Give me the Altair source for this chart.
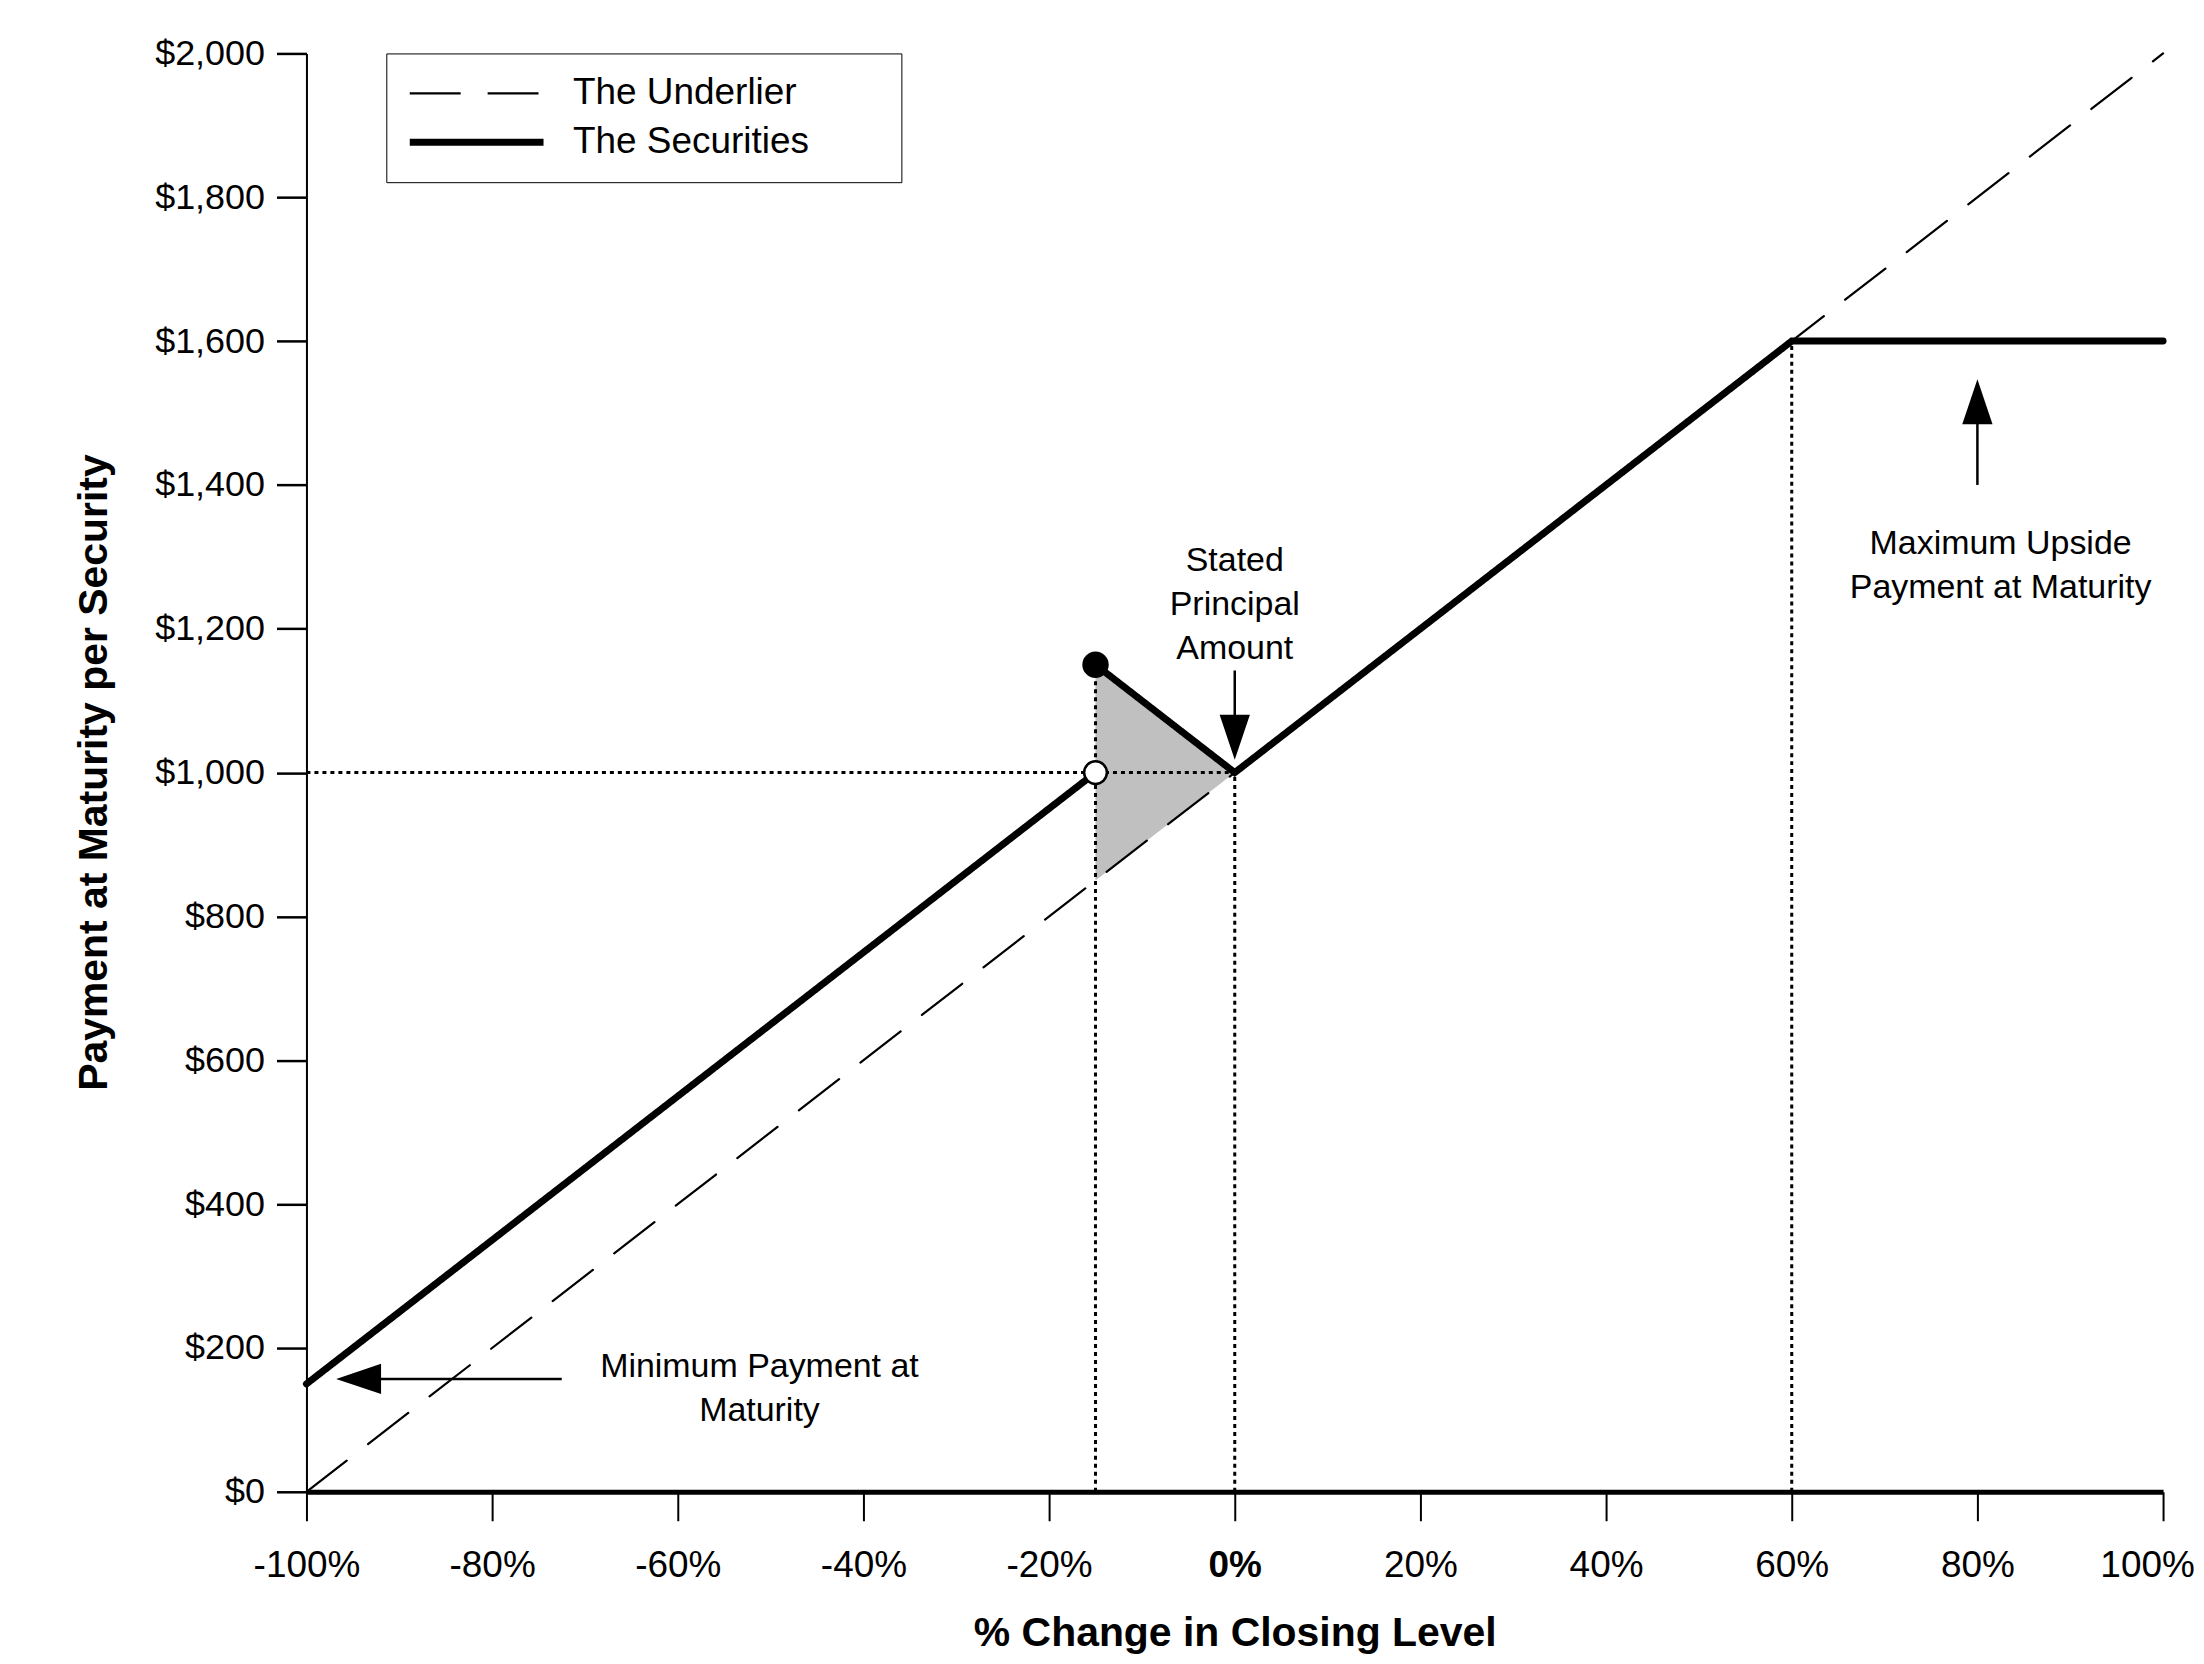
import altair as alt
import pandas as pd

FONT = "Liberation Sans"
X_TITLE = "% Change in Closing Level"
Y_TITLE = "Payment at Maturity per Security"

# ---- series values ----
series_names = ["The Underlier", "The Securities"]
underlier_x = [-100, 100]
underlier_y = [0, 2000]
sec_low_x = [-100, -15]
sec_low_y = [150, 1000]
sec_high_x = [-15, 0, 60, 100]
sec_high_y = [1150, 1000, 1600, 1600]

# shaded region between underlier and securities
shade_x = [-15, 0]
shade_lo = [850, 1000]
shade_hi = [1150, 1000]

# dotted reference lines
ref_x = [-100, -15, 0, 60]
ref_x2 = [0, -15, 0, 60]
ref_y = [1000, 0, 0, 0]
ref_y2 = [1000, 1150, 1000, 1600]

# markers
open_x = [-15]
open_y = [1000]
solid_x = [-15]
solid_y = [1150]

# annotation texts
note_text = ["Stated\nPrincipal\nAmount",
             "Maximum Upside\nPayment at Maturity",
             "Minimum Payment at\nMaturity"]
note_x = [0, 82.5, -51.2]
note_y = [1280, 1304, 159]

# arrow shafts
arrow_x = [0, 80, -72.5]
arrow_x2 = [0, 80, -93]
arrow_y = [1142, 1400, 157]
arrow_y2 = [1050, 1510, 157]
# arrow tips
down_tip_x, down_tip_y = [0], [1018]
up_tip_x, up_tip_y = [80], [1547]
left_tip_x, left_tip_y = [-96.8], [157]

x_ticks = [-100, -80, -60, -40, -20, 0, 20, 40, 60, 80, 100]
y_ticks = [0, 200, 400, 600, 800, 1000, 1200, 1400, 1600, 1800, 2000]

# ---- tables ----
lines_df = pd.DataFrame({
    "x": underlier_x + sec_low_x + sec_high_x,
    "y": underlier_y + sec_low_y + sec_high_y,
    "series": [series_names[0]] * len(underlier_x) + [series_names[1]] * (len(sec_low_x) + len(sec_high_x)),
    "seg": ["u"] * len(underlier_x) + ["s1"] * len(sec_low_x) + ["s2"] * len(sec_high_x),
})
shade_df = pd.DataFrame({"x": shade_x, "y": shade_lo, "hi": shade_hi})
ref_df = pd.DataFrame({"x": ref_x, "x2": ref_x2, "y": ref_y, "y2": ref_y2})
open_df = pd.DataFrame({"x": open_x, "y": open_y})
solid_df = pd.DataFrame({"x": solid_x, "y": solid_y})
note_df = pd.DataFrame({"x": note_x, "y": note_y, "t": note_text})
arrow_df = pd.DataFrame({"x": arrow_x, "x2": arrow_x2, "y": arrow_y, "y2": arrow_y2})
down_df = pd.DataFrame({"x": down_tip_x, "y": down_tip_y})
up_df = pd.DataFrame({"x": up_tip_x, "y": up_tip_y})
left_df = pd.DataFrame({"x": left_tip_x, "y": left_tip_y})

xscale = alt.Scale(domain=[-100, 100], nice=False, zero=False)
yscale = alt.Scale(domain=[0, 2000], nice=False, zero=False)

x_axis = alt.Axis(
    values=x_ticks, labelExpr="datum.value + '%'", grid=False,
    tickSize=29, tickWidth=2, tickColor="black",
    domainWidth=5, domainColor="black",
    labelFont=FONT, labelFontSize=37, labelColor="black", labelPadding=27,
    labelFontWeight={"condition": {"test": "datum.value === 0", "value": "bold"}, "value": "normal"},
    labelOffset={"condition": {"test": "datum.value === 100", "value": -16}, "value": 0},
    labelOverlap=False, labelBound=False, labelFlush=False,
    titleFont=FONT, titleFontSize=41, titleFontWeight="bold", titleColor="black",
    titleY=154, titleBaseline="alphabetic",
)
y_axis = alt.Axis(
    values=y_ticks, format="$,.0f", grid=False,
    tickSize=30, tickWidth=2.5, tickColor="black",
    domainWidth=2, domainColor="black",
    labelFont=FONT, labelFontSize=36, labelColor="black", labelPadding=12,
    labelOverlap=False, labelBound=False, labelFlush=False,
    titleFont=FONT, titleFontSize=41, titleFontWeight="bold", titleColor="black",
    titleAngle=270, titleX=-200, titleY=720, titleBaseline="alphabetic", titleAlign="center",
)

pad_chars = "\u00a0" * 7 + "\u200b"
legend = alt.Legend(
    orient="none", legendX=80, legendY=0,
    labelFont=FONT, labelFontSize=37, labelColor="black", labelLimit=1000,
    labelExpr="datum.label + '" + pad_chars + "'",
    symbolType="stroke", symbolSize=17956, symbolStrokeColor="black",
    clipHeight=40, padding=20, rowPadding=9, labelOffset=26,
    strokeColor="black", fillColor="white",
)


def X(field="x:Q", **kw):
    return alt.X(field, scale=xscale, title=X_TITLE, **kw)


def Y(field="y:Q", **kw):
    return alt.Y(field, scale=yscale, title=Y_TITLE, **kw)


shade = alt.Chart(shade_df).mark_area(color="#c0c0c0", opacity=1).encode(
    x=X(axis=x_axis),
    y=Y(axis=y_axis),
    y2="hi:Q",
)

refs = alt.Chart(ref_df).mark_rule(color="black", strokeWidth=3, strokeDash=[4, 4]).encode(
    x=X(), x2="x2:Q", y=Y(), y2="y2:Q",
)

lines = alt.Chart(lines_df).mark_line(color="black", strokeCap="round", strokeJoin="miter").encode(
    x=X(),
    y=Y(),
    detail="seg:N",
    strokeDash=alt.StrokeDash("series:N", scale=alt.Scale(domain=series_names, range=[[51, 27], [1, 0]]),
                              legend=legend, title=None),
    strokeWidth=alt.StrokeWidth("series:N", scale=alt.Scale(domain=series_names, range=[2.2, 7]),
                                legend=legend, title=None),
)

shafts = alt.Chart(arrow_df).mark_rule(color="black", strokeWidth=2.5).encode(
    x=X(), x2="x2:Q", y=Y(), y2="y2:Q",
)


def head(df, path):
    return alt.Chart(df).mark_point(shape=path, filled=True, color="black", opacity=1,
                                    size=2025, strokeWidth=0).encode(x=X(), y=Y())


down_head = head(down_df, "M0,0L-0.674,-2L0.674,-2Z")
up_head = head(up_df, "M0,0L-0.674,2L0.674,2Z")
left_head = head(left_df, "M0,0L2,-0.674L2,0.674Z")

open_pt = alt.Chart(open_df).mark_point(shape="circle", filled=True, fill="white", stroke="black",
                                        strokeWidth=2.5, size=520, opacity=1).encode(x=X(), y=Y())
solid_pt = alt.Chart(solid_df).mark_circle(color="black", size=700, opacity=1).encode(x=X(), y=Y())

notes = alt.Chart(note_df).mark_text(font=FONT, fontSize=34, color="black", align="center",
                                     baseline="alphabetic", lineBreak="\n", lineHeight=44).encode(
    x=X(), y=Y(), text="t:N",
)

chart = alt.layer(
    shade, refs, lines, shafts, down_head, up_head, left_head, solid_pt, open_pt, notes
).properties(
    width=1860, height=1441,
    padding={"left": 299, "top": 44, "right": 33, "bottom": 163},
    autosize=alt.AutoSizeParams(type="none"),
    background="white",
).configure_view(strokeWidth=0)

chart.save("out.html", embed_options={"renderer": "svg", "actions": False})
